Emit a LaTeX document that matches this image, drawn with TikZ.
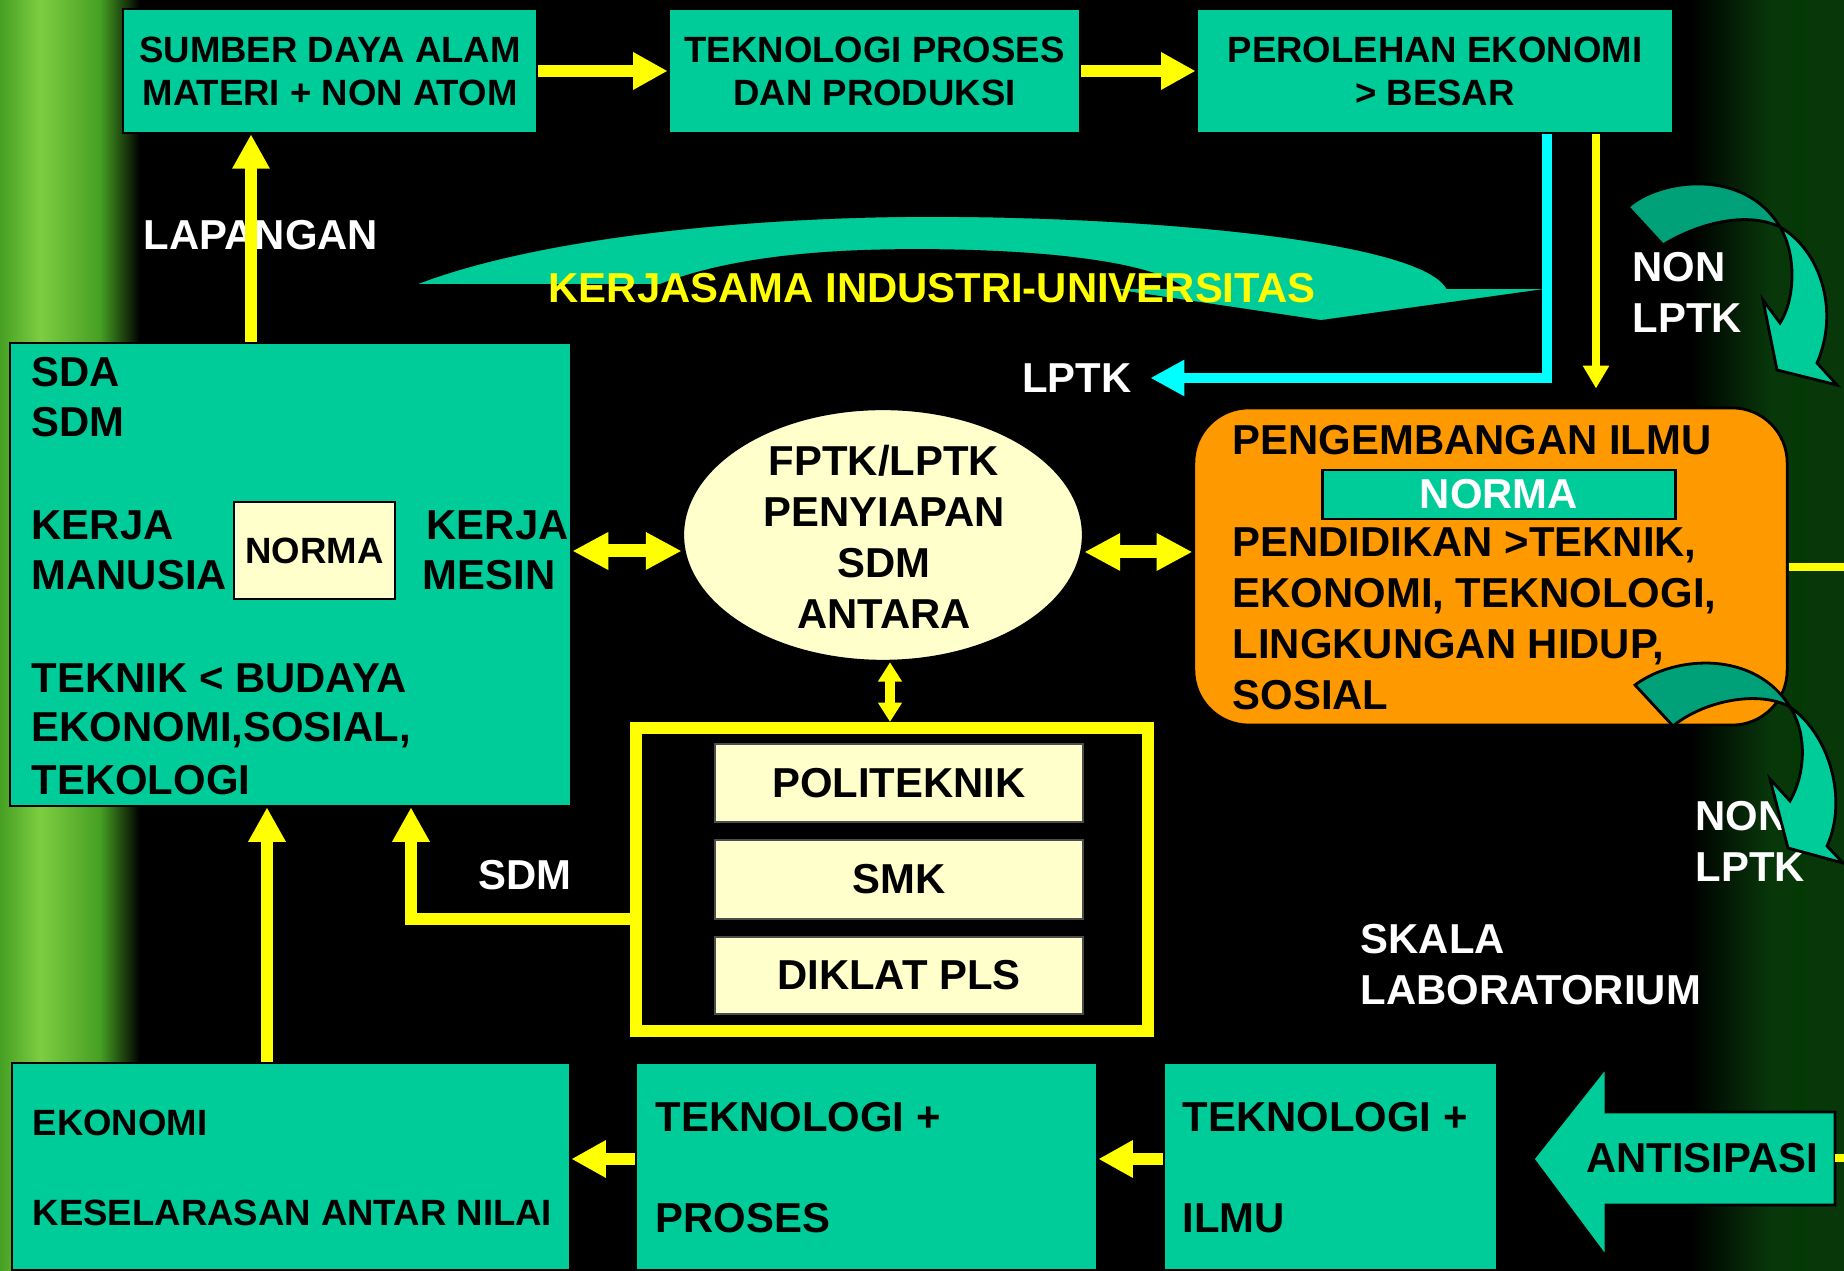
\documentclass[tikz,border=0pt]{standalone}
\usepackage{fontspec}
\setmainfont{Liberation Sans}
\usetikzlibrary{arrows.meta,shapes.geometric,calc}
\definecolor{tealc}{RGB}{0,204,153}
\definecolor{tealdark}{RGB}{0,160,120}
\definecolor{creamc}{RGB}{255,255,204}
\definecolor{orangec}{RGB}{255,153,0}
\definecolor{yellowc}{RGB}{255,255,0}
\definecolor{cyanc}{RGB}{0,255,255}
\definecolor{greenl}{RGB}{125,205,65}
\definecolor{greenm}{RGB}{70,160,35}
\definecolor{greend}{RGB}{8,55,10}
\begin{document}
\begin{tikzpicture}[x=0.01cm,y=-0.01cm,
  bigtxt/.style={font={\fontsize{11.9}{14.5}\selectfont\bfseries}},
  smltxt/.style={font={\fontsize{10.4}{12.2}\selectfont\bfseries}},
  lbl/.style={inner sep=0pt, align=left},
  tealbox/.style={draw=black, line width=0.7pt, fill=tealc, inner sep=0pt},
  creambox/.style={draw=black!70, line width=0.7pt, fill=creamc, inner sep=0pt},
  yarr/.style={draw=yellowc, line width=3.4pt, -{Triangle[width=10pt,length=9.8pt]}},
  ydbl/.style={draw=yellowc, line width=3.7pt, {Triangle[width=10pt,length=10.2pt]}-{Triangle[width=10pt,length=10.2pt]}},
  ydbls/.style={draw=yellowc, line width=2.8pt, {Triangle[width=6.5pt,length=5.5pt]}-{Triangle[width=6.5pt,length=5.5pt]}},
  cyarr/.style={draw=cyanc, line width=3.1pt, -{Triangle[width=9.7pt,length=9.7pt]}},
  ythin/.style={draw=yellowc, line width=2pt, -{Triangle[width=7.1pt,length=6.5pt]}},
  ystub/.style={draw=yellowc, line width=2.4pt},
  curvdark/.style={fill=tealdark, draw=black, line width=0.8pt},
  curvlight/.style={fill=tealc, draw=black, line width=0.8pt}
]
% background
\fill[black] (0,0) rectangle (1844,1271);
\useasboundingbox (0,0) rectangle (1844,1271);
\shade[left color=greenm, right color=greenl] (0,0) rectangle (40,1271);
\shade[left color=greenl, right color=greenm] (40,0) rectangle (100,1271);
\shade[left color=greenm, right color=black] (100,0) rectangle (140,1271);
\shade[left color=black, right color=greend] (1690,0) rectangle (1770,1271);
\fill[greend] (1770,0) rectangle (1844,1271);
\fill[greend!80!green!60!black] (1792,0) rectangle (1806,1271);

% KERJASAMA curved arrow
\filldraw[fill=tealc, draw=black, line width=0.5pt] (413,285) .. controls (540,235) and (760,216) .. (930,216) .. controls (1150,216) and (1420,240) .. (1447,288) -- (1558,288) -- (1321,321) -- (1100,288) -- (1183,288) .. controls (1150,262) and (1040,250) .. (916,250) .. controls (800,250) and (720,262) .. (660,285) -- cycle;

% top boxes
\node[tealbox, smltxt, align=center, minimum width=4.14cm, minimum height=1.24cm] (sda) at (330,71) {SUMBER DAYA ALAM\\MATERI + NON ATOM};
\node[tealbox, smltxt, align=center, minimum width=4.11cm, minimum height=1.24cm] (tpp) at (874.5,71) {TEKNOLOGI PROSES\\DAN PRODUKSI};
\node[tealbox, smltxt, align=center, minimum width=4.76cm, minimum height=1.24cm] (peb) at (1435,71) {PEROLEHAN EKONOMI\\> BESAR};

% left big box
\node[tealbox, minimum width=5.61cm, minimum height=4.63cm] (lbox) at (290.5,574.5) {};
\node[creambox, draw=black, smltxt, minimum width=1.61cm, minimum height=0.97cm] (norm1) at (314.5,550.5) {NORMA};
\node[lbl, bigtxt, anchor=west] (tsda) at (31,372) {SDA};
\node[lbl, bigtxt, anchor=west] (tsdm) at (31,422) {SDM};
\node[lbl, bigtxt, anchor=west] (tkm1) at (31,525) {KERJA};
\node[lbl, bigtxt, anchor=west] (tkm2) at (31,575) {MANUSIA};
\node[lbl, bigtxt, anchor=west] (tks1) at (426,525) {KERJA};
\node[lbl, bigtxt, anchor=west] (tks2) at (422,575) {MESIN};
\node[lbl, bigtxt, anchor=west] (tteb) at (31,678) {TEKNIK < BUDAYA};
\node[lbl, bigtxt, anchor=west] (tekso) at (31,730) {EKONOMI,SOSIAL,};
\node[lbl, bigtxt, anchor=west] (tteko) at (31,780) {TEKOLOGI};

% ellipse
\node[ellipse, draw=black, line width=0.7pt, fill=creamc, minimum width=4.0cm, minimum height=2.52cm, inner sep=0pt] (ell) at (883,535) {};
\node[lbl, bigtxt, align=center] (elltxt) at (884,537) {FPTK/LPTK\\PENYIAPAN\\SDM\\ANTARA};

% orange box
\node[draw=black, line width=0.8pt, fill=orangec, rounded corners=0.55cm, minimum width=5.93cm, minimum height=3.17cm, inner sep=0pt] (orb) at (1490.5,566.5) {};
\node[draw=black, line width=0.8pt, fill=tealc, minimum width=3.52cm, minimum height=0.49cm, inner sep=0pt, bigtxt, text=white] (norm2) at (1499,494.5) {NORMA};
\node[lbl, bigtxt, anchor=west] (peng) at (1232,440) {PENGEMBANGAN ILMU};
\node[lbl, bigtxt, anchor=west] (pend) at (1232,619) {PENDIDIKAN >TEKNIK,\\EKONOMI, TEKNOLOGI,\\LINGKUNGAN HIDUP,\\SOSIAL};

% yellow frame with three boxes
\node[draw=yellowc, line width=3.4pt, minimum width=5.12cm, minimum height=3.03cm, inner sep=0pt] (frm) at (892,879.5) {};
\node[creambox, bigtxt, minimum width=3.68cm, minimum height=0.78cm] (poli) at (899,783) {POLITEKNIK};
\node[creambox, bigtxt, minimum width=3.68cm, minimum height=0.79cm] (smk) at (899,879.5) {SMK};
\node[creambox, bigtxt, minimum width=3.68cm, minimum height=0.77cm] (dik) at (899,975.5) {DIKLAT PLS};

% bottom boxes
\node[tealbox, minimum width=5.58cm, minimum height=2.07cm] (eko) at (291,1166.5) {};
\node[tealbox, minimum width=4.61cm, minimum height=2.07cm] (tkp) at (866.5,1166.5) {};
\node[tealbox, minimum width=3.33cm, minimum height=2.07cm] (tki) at (1330.5,1166.5) {};
\node[lbl, smltxt, anchor=west] (teko1) at (32,1123) {EKONOMI};
\node[lbl, smltxt, anchor=west] (teko2) at (32,1213) {KESELARASAN ANTAR NILAI};
\node[lbl, bigtxt, anchor=west] (ttkp1) at (655,1117) {TEKNOLOGI +};
\node[lbl, bigtxt, anchor=west] (ttkp2) at (655,1218) {PROSES};
\node[lbl, bigtxt, anchor=west] (ttki1) at (1182,1117) {TEKNOLOGI +};
\node[lbl, bigtxt, anchor=west] (ttki2) at (1182,1218) {ILMU};

% ANTISIPASI arrow
\filldraw[fill=tealc, draw=black, line width=0.8pt] (1533,1159) -- (1606,1067) -- (1606,1112) -- (1835,1112) -- (1835,1205) -- (1606,1205) -- (1606,1257) -- cycle;
\node[lbl, bigtxt] (anti) at (1702,1158) {ANTISIPASI};

% free labels
\node[lbl, bigtxt, text=white] (lap) at (261,235) {LAPANGAN};
\node[lbl, bigtxt, text=yellowc] (kerja) at (932,288) {KERJASAMA INDUSTRI-UNIVERSITAS};
\node[lbl, bigtxt, text=white] (lptk) at (1077,378) {LPTK};
\node[lbl, bigtxt, text=white, anchor=west] (nonl1) at (1632,292.5) {NON\\LPTK};
\node[lbl, bigtxt, text=white, anchor=west] (nonl2) at (1695,841.5) {NON\\LPTK};
\node[lbl, bigtxt, text=white, anchor=west] (skala) at (1360,964.5) {SKALA\\LABORATORIUM};
\node[lbl, bigtxt, text=white] (sdmlbl) at (525,875) {SDM};

% helper coordinates
\coordinate (lapx) at (251,0);
\coordinate (ay) at (0,551);
\coordinate (by) at (0,552);
\coordinate (vx) at (890,0);
\coordinate (sy) at (0,919);
\coordinate (sx) at (411,0);
\coordinate (ex) at (267,0);
\coordinate (bty) at (0,1159);
\coordinate (cx) at (1547,0);
\coordinate (tx) at (1596,0);
\coordinate (oy) at (0,567);
\coordinate (edgeO) at (1844,567);
\coordinate (antiR) at (1835,1158);
\coordinate (edgeA) at (1844,1158);

% connectors
\draw[yarr] (sda.east) -- (tpp.west);
\draw[yarr] (tpp.east) -- (peb.west);
\draw[yarr] (lbox.north -| lapx) -- (sda.south -| lapx);
\draw[ydbl] (lbox.east |- ay) -- (ell.west |- ay);
\draw[ydbl] (ell.east |- by) -- (orb.west |- by);
\draw[ydbls] (ell.south -| vx) -- (frm.north -| vx);
\draw[yarr] (frm.west |- sy) -| (lbox.south -| sx);
\draw[yarr] (eko.north -| ex) -- (lbox.south -| ex);
\draw[yarr] (tkp.west |- bty) -- (eko.east |- bty);
\draw[yarr] (tki.west |- bty) -- (tkp.east |- bty);
\draw[cyarr] (peb.south -| cx) |- ($(lptk.east)+(18,0)$);
\draw[ythin, shorten >=0.18cm] (peb.south -| tx) -- (orb.north -| tx);
\draw[ystub] (orb.east |- oy) -- (edgeO);
\draw[ystub] (antiR) -- (edgeA);

% NON LPTK curved arrows
\filldraw[curvdark] (1628,207) .. controls (1660,178) and (1745,168) .. (1780,227) .. controls (1745,210) and (1695,225) .. (1663,245) -- cycle;
\filldraw[curvlight] (1780,227) .. controls (1820,250) and (1840,310) .. (1817,363) -- (1837,385) -- (1777,370) -- (1763,300) -- (1780,323) .. controls (1795,300) and (1797,255) .. (1780,227) -- cycle;
\filldraw[curvdark] (1635,685) .. controls (1675,655) and (1755,650) .. (1790,707) .. controls (1760,690) and (1705,700) .. (1673,726) -- cycle;
\filldraw[curvlight] (1790,707) .. controls (1830,735) and (1848,800) .. (1827,846) -- (1843,863) -- (1788,848) -- (1770,779) -- (1790,801) .. controls (1805,775) and (1808,735) .. (1790,707) -- cycle;
\end{tikzpicture}
\end{document}
